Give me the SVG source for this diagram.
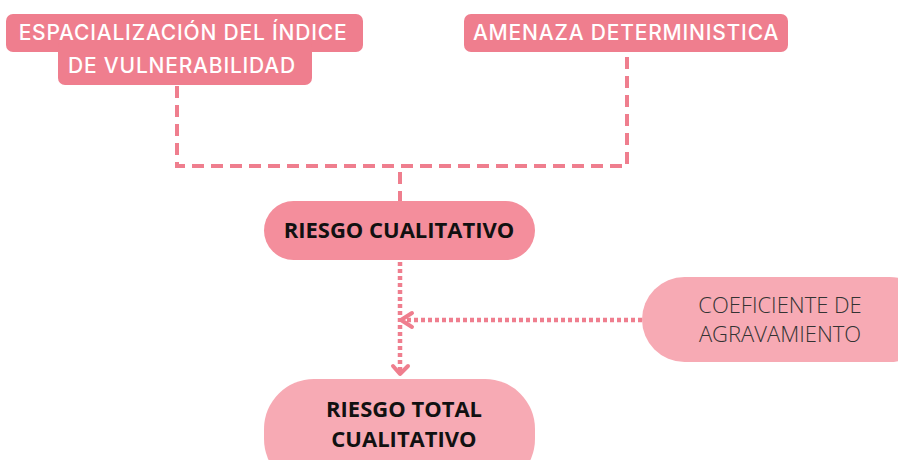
<svg xmlns="http://www.w3.org/2000/svg" width="898" height="460" viewBox="0 0 898 460">
<style>
.top{fill:#EF7E8E}
.tt{font-family:Inter,"Liberation Sans",sans-serif;font-size:21px;font-weight:500;fill:#FFFFFF;letter-spacing:0.8px}
.bt{font-family:"Open Sans","Liberation Sans",sans-serif;font-size:22px;font-weight:700;fill:#111111}
.lt{font-family:"Open Sans","Liberation Sans",sans-serif;font-size:22px;font-weight:300;fill:#333333}
.dash{fill:none;stroke:#EF7E8E;stroke-width:4;stroke-dasharray:12 7}
.dot{fill:none;stroke:#EF7E8E;stroke-width:4.5;stroke-dasharray:4 3}
.head{fill:none;stroke:#EF7E8E;stroke-width:4;stroke-linecap:round;stroke-linejoin:round}
</style>
<rect width="898" height="460" fill="#FFFFFF"/>
<g id="connectors">
<path class="dash" d="M177 86 V166 H627 V53"/>
<path class="dash" d="M400 172 V201"/>
<path class="dot" d="M400 262 V374"/>
<path class="head" d="M393 366 L400 374 L408 366"/>
<path class="dot" d="M642 320 H404"/>
<path class="head" d="M412 313 L401 320 L412 327"/>
</g>
<g id="node-vulnerabilidad">
<rect class="top" x="6" y="14" width="357" height="38" rx="7"/>
<rect class="top" x="58" y="40" width="254" height="45" rx="7"/>
<text class="tt" x="183" y="40" text-anchor="middle">ESPACIALIZACIÓN DEL ÍNDICE</text>
<text class="tt" x="182" y="73" text-anchor="middle">DE VULNERABILIDAD</text>
</g>
<g id="node-amenaza">
<rect class="top" x="464" y="14" width="324" height="38" rx="7"/>
<text class="tt" x="626" y="40" text-anchor="middle">AMENAZA DETERMINISTICA</text>
</g>
<g id="node-riesgo-cualitativo">
<rect x="264" y="201" width="271" height="59" rx="29.5" fill="#F48E9C"/>
<text class="bt" x="399" y="238" text-anchor="middle">RIESGO CUALITATIVO</text>
</g>
<g id="node-coeficiente">
<rect x="642" y="277" width="290" height="85" rx="42.5" fill="#F7AAB4"/>
<text class="lt" x="780" y="313" text-anchor="middle">COEFICIENTE DE</text>
<text class="lt" x="780" y="342" text-anchor="middle">AGRAVAMIENTO</text>
</g>
<g id="node-riesgo-total">
<rect x="264" y="379" width="271" height="110" rx="50" fill="#F7AAB4"/>
<text class="bt" x="404" y="417" text-anchor="middle">RIESGO TOTAL</text>
<text class="bt" x="404" y="447" text-anchor="middle">CUALITATIVO</text>
</g>
</svg>
